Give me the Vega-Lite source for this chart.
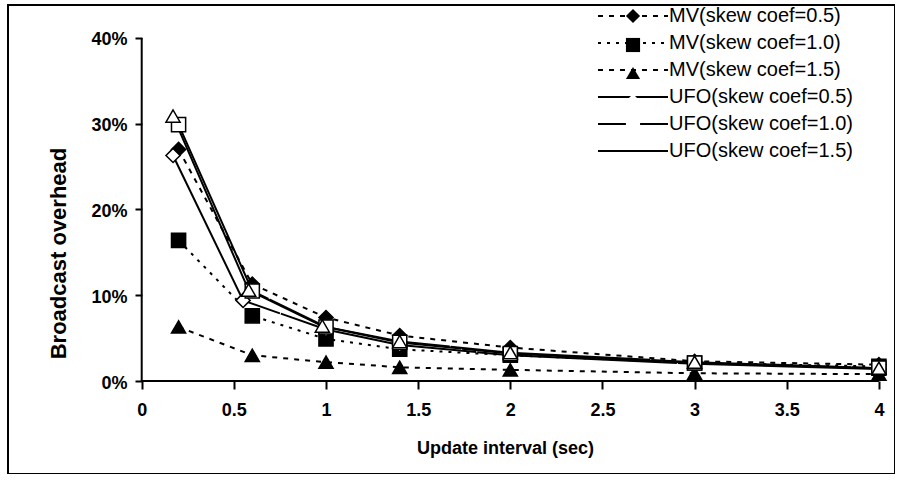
{
  "$schema": "https://vega.github.io/schema/vega-lite/v6.json",
  "autosize": {"type": "none"},
  "padding": {"left": 8, "top": 5, "right": 0, "bottom": 0},
  "width": 887,
  "height": 469,
  "background": "white",
  "config": {
    "view": {"stroke": "black", "strokeWidth": 2},
    "font": "Liberation Sans"
  },
  "data": {
    "values": [
      {"series": "MV(skew coef=0.5)", "x": 0.2, "y": 0.27},
      {"series": "MV(skew coef=0.5)", "x": 0.6, "y": 0.113},
      {"series": "MV(skew coef=0.5)", "x": 1.0, "y": 0.074},
      {"series": "MV(skew coef=0.5)", "x": 1.4, "y": 0.053},
      {"series": "MV(skew coef=0.5)", "x": 2.0, "y": 0.039},
      {"series": "MV(skew coef=0.5)", "x": 3.0, "y": 0.023},
      {"series": "MV(skew coef=0.5)", "x": 4.0, "y": 0.019},
      {"series": "MV(skew coef=1.0)", "x": 0.2, "y": 0.164},
      {"series": "MV(skew coef=1.0)", "x": 0.6, "y": 0.076},
      {"series": "MV(skew coef=1.0)", "x": 1.0, "y": 0.049},
      {"series": "MV(skew coef=1.0)", "x": 1.4, "y": 0.037},
      {"series": "MV(skew coef=1.0)", "x": 2.0, "y": 0.030},
      {"series": "MV(skew coef=1.0)", "x": 3.0, "y": 0.021},
      {"series": "MV(skew coef=1.0)", "x": 4.0, "y": 0.017},
      {"series": "MV(skew coef=1.5)", "x": 0.2, "y": 0.063},
      {"series": "MV(skew coef=1.5)", "x": 0.6, "y": 0.030},
      {"series": "MV(skew coef=1.5)", "x": 1.0, "y": 0.022},
      {"series": "MV(skew coef=1.5)", "x": 1.4, "y": 0.016},
      {"series": "MV(skew coef=1.5)", "x": 2.0, "y": 0.013},
      {"series": "MV(skew coef=1.5)", "x": 3.0, "y": 0.009},
      {"series": "MV(skew coef=1.5)", "x": 4.0, "y": 0.008},
      {"series": "UFO(skew coef=0.5)", "x": 0.17, "y": 0.263},
      {"series": "UFO(skew coef=0.5)", "x": 0.55, "y": 0.094},
      {"series": "UFO(skew coef=0.5)", "x": 1.0, "y": 0.060},
      {"series": "UFO(skew coef=0.5)", "x": 1.4, "y": 0.042},
      {"series": "UFO(skew coef=0.5)", "x": 2.0, "y": 0.030},
      {"series": "UFO(skew coef=0.5)", "x": 3.0, "y": 0.020},
      {"series": "UFO(skew coef=0.5)", "x": 4.0, "y": 0.014},
      {"series": "UFO(skew coef=1.0)", "x": 0.2, "y": 0.299},
      {"series": "UFO(skew coef=1.0)", "x": 0.6, "y": 0.105},
      {"series": "UFO(skew coef=1.0)", "x": 1.0, "y": 0.063},
      {"series": "UFO(skew coef=1.0)", "x": 1.4, "y": 0.045},
      {"series": "UFO(skew coef=1.0)", "x": 2.0, "y": 0.032},
      {"series": "UFO(skew coef=1.0)", "x": 3.0, "y": 0.021},
      {"series": "UFO(skew coef=1.0)", "x": 4.0, "y": 0.015},
      {"series": "UFO(skew coef=1.5)", "x": 0.17, "y": 0.309},
      {"series": "UFO(skew coef=1.5)", "x": 0.58, "y": 0.106},
      {"series": "UFO(skew coef=1.5)", "x": 0.98, "y": 0.064},
      {"series": "UFO(skew coef=1.5)", "x": 1.4, "y": 0.046},
      {"series": "UFO(skew coef=1.5)", "x": 2.0, "y": 0.033},
      {"series": "UFO(skew coef=1.5)", "x": 3.0, "y": 0.022},
      {"series": "UFO(skew coef=1.5)", "x": 4.0, "y": 0.015}
    ]
  },
  "layer": [
    {
      "mark": {"type": "line", "color": "black", "strokeWidth": 2},
      "encoding": {
        "x": {
          "field": "x", "type": "quantitative",
          "scale": {"domain": [-0.7255, 4.0874], "nice": false, "zero": false},
          "axis": {
            "orient": "bottom", "offset": -93, "domain": false, "grid": false,
            "values": [0, 0.5, 1, 1.5, 2, 2.5, 3, 3.5, 4], "format": "~g",
            "tickSize": 8, "tickWidth": 2, "tickColor": "black",
            "labelFont": "Liberation Sans", "labelFontSize": 18, "labelFontWeight": "bold", "labelColor": "black",
            "labelPadding": 12, "labelFlush": false, "labelOverlap": false,
            "title": "Update interval (sec)",
            "titleFont": "Liberation Sans", "titleFontSize": 18, "titleFontWeight": "bold", "titleColor": "black",
            "titleX": 497, "titleY": 67, "titleBaseline": "middle", "titleAlign": "center"
          }
        },
        "y": {
          "field": "y", "type": "quantitative",
          "scale": {"domain": [-0.10845, 0.43848], "nice": false, "zero": false},
          "axis": {
            "orient": "left", "offset": -134, "domain": false, "grid": false,
            "values": [0, 0.1, 0.2, 0.3, 0.4], "format": ".0%",
            "tickSize": 7, "tickWidth": 2, "tickColor": "black",
            "labelFont": "Liberation Sans", "labelFontSize": 18, "labelFontWeight": "bold", "labelColor": "black",
            "labelPadding": 8, "labelOffset": 2, "labelFlush": false, "labelOverlap": false, "labelBaseline": "middle",
            "title": "Broadcast overhead",
            "titleFont": "Liberation Sans", "titleFontSize": 22, "titleFontWeight": "bold", "titleColor": "black",
            "titleX": -84, "titleY": 248, "titleBaseline": "middle", "titleAlign": "center", "titleAngle": -90
          }
        },
        "strokeDash": {
          "field": "series", "type": "nominal",
          "scale": {"range": [[5, 6], [3, 6], [5, 6], [200, 1], [200, 1], [200, 1]]},
          "legend": {
            "orient": "none", "legendX": 615, "legendY": 1, "title": null, "padding": 0,
            "symbolType": "M-7,0H7", "symbolSize": 100, "symbolStrokeWidth": 2, "symbolStrokeColor": "black",
            "labelFont": "Liberation Sans", "labelFontSize": 20, "labelColor": "black", "labelOffset": 26,
            "labelLimit": 400, "rowPadding": 7
          }
        }
      }
    },
    {
      "data": {"values": [{"a": 1}]},
      "mark": {"type": "rule", "color": "black", "strokeWidth": 2},
      "encoding": {
        "x": {"datum": 0, "type": "quantitative"},
        "x2": {"datum": 4},
        "y": {"datum": 0, "type": "quantitative"}
      }
    },
    {
      "data": {"values": [{"a": 1}]},
      "mark": {"type": "rule", "color": "black", "strokeWidth": 2},
      "encoding": {
        "x": {"datum": 0, "type": "quantitative"},
        "y": {"datum": 0, "type": "quantitative"},
        "y2": {"datum": 0.4}
      }
    },
    {
      "mark": {"type": "point", "filled": false, "stroke": "black", "strokeWidth": 1.5, "size": 200, "opacity": 1},
      "encoding": {
        "x": {"field": "x", "type": "quantitative"},
        "y": {"field": "y", "type": "quantitative"},
        "shape": {
          "field": "series", "type": "nominal",
          "scale": {
            "domain": ["MV(skew coef=0.5)", "MV(skew coef=1.0)", "MV(skew coef=1.5)", "UFO(skew coef=0.5)", "UFO(skew coef=1.0)", "UFO(skew coef=1.5)"],
            "range": ["diamond", "square", "triangle-up", "diamond", "square", "triangle-up"]
          },
          "legend": {
            "orient": "none", "legendX": 615, "legendY": 1, "title": null, "padding": 0,
            "symbolSize": 200, "symbolStrokeWidth": 1.5, "symbolStrokeColor": "black",
            "labelFont": "Liberation Sans", "labelFontSize": 20, "labelExpr": "' '", "labelOffset": 2,
            "labelLimit": 400, "rowPadding": 7,
            "encode": {"symbols": {
              "fill": {"expr": "indexof(datum.value, 'UFO') === 0 ? 'white' : 'black'"},
              "stroke": {"value": "black"},
              "strokeWidth": {"value": 1.5},
              "strokeOpacity": {"value": 1}
            }}
          }
        },
        "fill": {
          "field": "series", "type": "nominal",
          "scale": {
            "domain": ["MV(skew coef=0.5)", "MV(skew coef=1.0)", "MV(skew coef=1.5)", "UFO(skew coef=0.5)", "UFO(skew coef=1.0)", "UFO(skew coef=1.5)"],
            "range": ["black", "black", "black", "white", "white", "white"]
          },
          "legend": null
        }
      }
    }
  ]
}
